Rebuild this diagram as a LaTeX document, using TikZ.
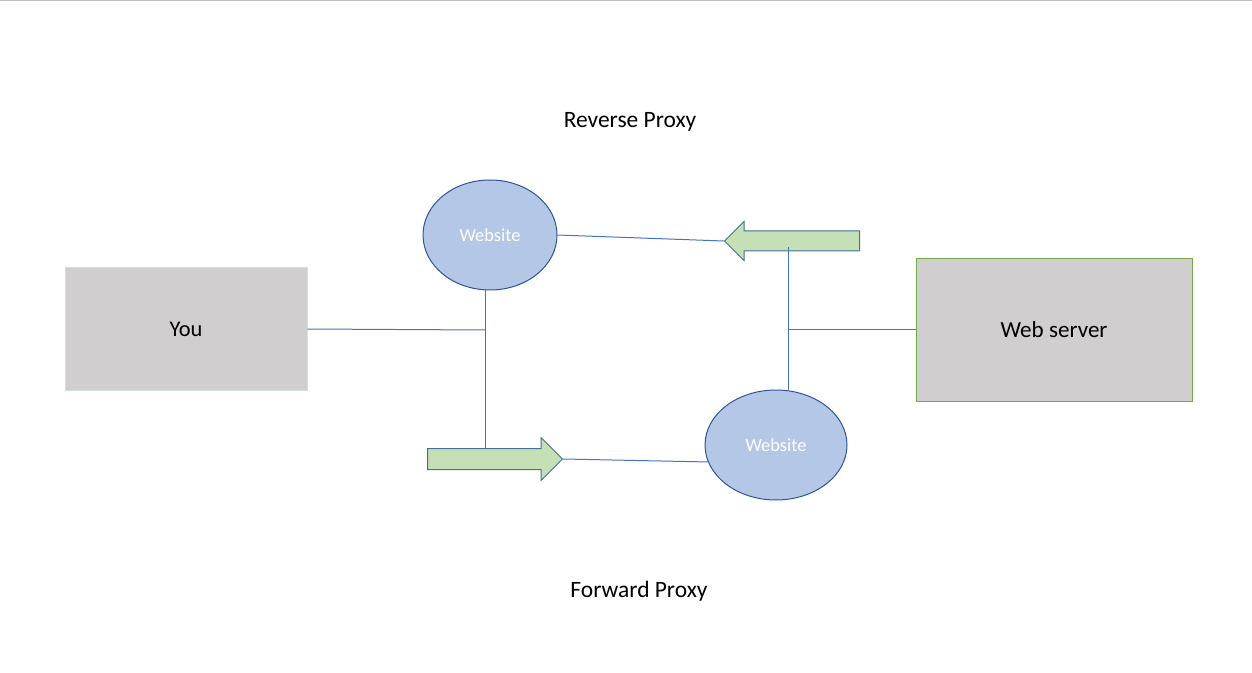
\documentclass[tikz,border=0pt]{standalone}
\usepackage{fontspec}
\setmainfont{Carlito}
\usetikzlibrary{shapes.geometric,shapes.arrows}
\definecolor{boxfill}{HTML}{D0CECE}
\definecolor{youborder}{HTML}{D6DCE5}
\definecolor{srvborder}{HTML}{70AD47}
\definecolor{ellfill}{HTML}{B4C7E7}
\definecolor{ellborder}{HTML}{2F5597}
\definecolor{linecol}{HTML}{4472C4}
\definecolor{arrfill}{HTML}{C5E0B4}
\definecolor{arrborder}{HTML}{41719C}
\definecolor{topline}{HTML}{C0C0C0}
\tikzset{
  lbl/.style={font=\fontsize{17.6}{21}\selectfont, text=black},
  greybox/.style={rectangle, fill=boxfill, line width=0.75pt, inner sep=0pt, font=\fontsize{17.3}{20}\selectfont},
  site/.style={ellipse, fill=ellfill, draw=ellborder, line width=0.75pt, inner sep=0pt,
     text=white, font=\fontsize{13.8}{16}\selectfont},
  conn/.style={draw=linecol, line width=0.75pt},
  bigarrow/.style={single arrow, fill=arrfill, draw=arrborder, line width=0.75pt,
     inner xsep=0pt, inner ysep={10*0.75pt}, single arrow head extend={11*0.75pt},
     minimum height={135*0.75pt}, anchor=tail}
}
\begin{document}
\begin{tikzpicture}[x=0.75pt,y=-0.75pt]
\useasboundingbox (0,0) rectangle (1252,673);
\draw[topline, line width=1.5pt] (0,0.5) -- (1252,0.5);

\node[lbl] (rp) at (630,122) {Reverse Proxy};
\node[lbl] (fp) at (639,591) {Forward Proxy};

\node[greybox, draw=youborder, minimum width={242*0.75pt}, minimum height={122*0.75pt}, font=\fontsize{16.8}{20}\selectfont] (you) at (186,329) {You};
\node[greybox, draw=srvborder, minimum width={276*0.75pt}, minimum height={142*0.75pt}] (srv) at (1054,330) {Web server};

\node[site, minimum width={134*0.75pt}, minimum height={110*0.75pt}] (w1) at (490,235) {Website};
\node[site, minimum width={142*0.75pt}, minimum height={110*0.75pt}] (w2) at (776,445) {Website};

\coordinate (j1) at (485,330);
\coordinate (j2) at (788,330);
\coordinate (j1b) at (485,449);
\coordinate (j2t) at (788,247);

% connectors
\draw[conn] (you.east) -- (j1);
\draw[conn] (w1.south -| j1) -- (j1b);
\draw[conn] (j2) -- (srv.west);
\draw[conn] (w2.north -| j2) -- (j2t);

\node[bigarrow] (ar) at (427,459) {};
\node[bigarrow, shape border rotate=180, minimum height={135*0.75pt}, inner ysep={9.5*0.75pt}, single arrow head extend={9.5*0.75pt}] (al) at (860,241) {};

\draw[conn] (w1.east) -- (al.tip);
\draw[conn] (ar.tip) -- (w2.194);
\draw[conn] (j2) -- (j2t);
\end{tikzpicture}
\end{document}
